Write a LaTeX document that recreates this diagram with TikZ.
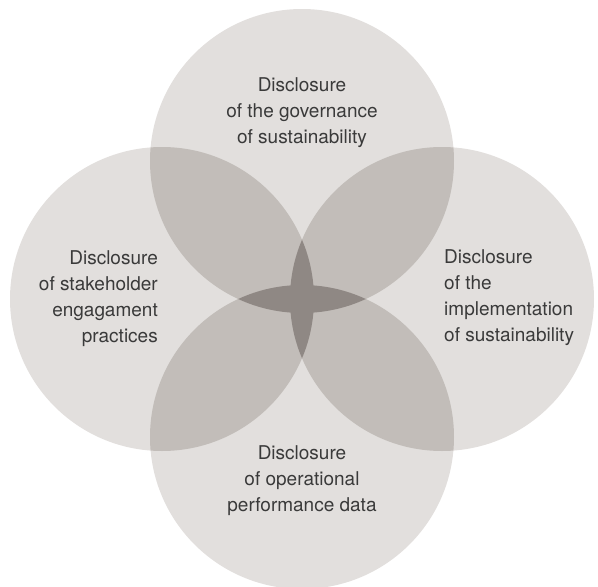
\documentclass[tikz,border=0pt]{standalone}
\usepackage{fontspec}
\setmainfont{TeX Gyre Heros}
\usetikzlibrary{positioning}
\definecolor{single}{HTML}{E2DFDD}
\definecolor{twofold}{HTML}{C2BDB9}
\definecolor{core}{HTML}{8F8884}
\definecolor{label}{HTML}{3A3A3A}
\newcommand{\rad}{152pt}

\begin{document}
\begin{tikzpicture}[x=1pt, y=-1pt,
    topic/.style={inner sep=0pt, text=label, font=\fontsize{19}{26}\selectfont}]
    \useasboundingbox (0,0) rectangle (598,587);

    \coordinate (gov) at (302,161);
    \coordinate (stake) at (162,299);
    \coordinate (impl) at (442,299);
    \coordinate (oper) at (302,437);

    % the four circles
    \foreach \c in {gov, stake, impl, oper}
        \fill[single] (\c) circle (\rad);

    % overlaps
    \begin{scope}
        \clip (gov) circle (\rad);
        \fill[twofold] (stake) circle (\rad);
        \fill[twofold] (impl) circle (\rad);
    \end{scope}
    \begin{scope}
        \clip (oper) circle (\rad);
        \fill[twofold] (stake) circle (\rad);
        \fill[twofold] (impl) circle (\rad);
    \end{scope}
    \begin{scope}
        \clip (gov) circle (\rad);
        \fill[core] (oper) circle (\rad);
    \end{scope}
    \begin{scope}
        \clip (stake) circle (\rad);
        \fill[core] (impl) circle (\rad);
    \end{scope}

    \node[topic, align=center, anchor=north] (govtext) at (302,77)
        {Disclosure\\of the governance\\of sustainability};
    \node[topic, align=right, anchor=north east] (staketext) at (158,250)
        {Disclosure\\of stakeholder\\engagament\\practices};
    \node[topic, align=left, anchor=north west] (impltext) at (444,249)
        {Disclosure\\of the\\implementation\\of sustainability};
    \node[topic, align=center, anchor=north] (opertext) at (302,445)
        {Disclosure\\of operational\\performance data};
\end{tikzpicture}
\end{document}
